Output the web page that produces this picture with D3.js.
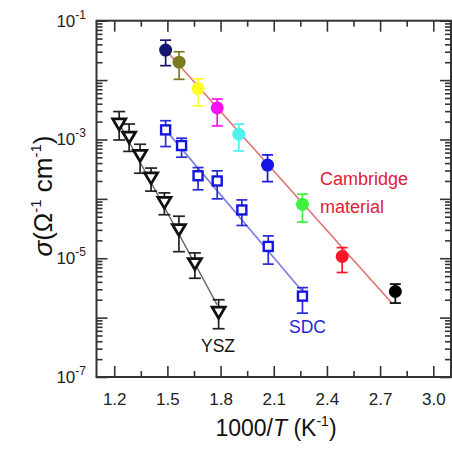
<!DOCTYPE html>
<html><head><meta charset="utf-8">
<script src="https://cdn.jsdelivr.net/npm/d3@7/dist/d3.min.js"></script>
<style>
html,body{margin:0;padding:0;background:#fff;}
svg{display:block;font-family:"Liberation Sans",Arial,sans-serif;}
</style></head>
<body>
<svg id="chart" width="452" height="453"></svg>
<script>
// ---- data ----
const camX    = [1.49, 1.566, 1.673, 1.781, 1.903, 2.065, 2.262, 2.486, 2.786];
const camY    = [3.2e-2, 2.0e-2, 7.2e-3, 3.4e-3, 1.23e-3, 3.7e-4, 8.1e-5, 1.07e-5, 2.75e-6];
const camHi   = [4.7e-2, 3.0e-2, 1.05e-2, 4.8e-3, 1.81e-3, 5.5e-4, 1.2e-4, 1.51e-5, 3.67e-6];
const camLo   = [1.75e-2, 1.03e-2, 3.67e-3, 1.69e-3, 6.4e-4, 1.95e-4, 4.06e-5, 5.75e-6, 1.76e-6];
const camColors = ["#14146e", "#7a7a1e", "#ffff28", "#ff10f0", "#50f0f0", "#1414e6", "#40f040", "#ff1428", "#000000"];
const camFitX = [1.49, 2.766];
const camFitY = [3.2e-2, 1.76e-6];

const sdcX  = [1.49, 1.58, 1.673, 1.781, 1.92, 2.069, 2.262];
const sdcY  = [1.45e-3, 7.9e-4, 2.45e-4, 2.0e-4, 6.5e-5, 1.58e-5, 2.3e-6];
const sdcHi = [2.07e-3, 1.05e-3, 3.36e-4, 2.96e-4, 9.6e-5, 2.38e-5, 3.2e-6];
const sdcLo = [7.6e-4, 5.03e-4, 1.42e-4, 1.0e-4, 3.56e-5, 7.96e-6, 1.19e-6];
const sdcFitX = [1.49, 2.254];
const sdcFitY = [1.45e-3, 2.95e-6];

const yszX  = [1.228, 1.284, 1.346, 1.408, 1.483, 1.565, 1.655, 1.789];
const yszY  = [1.86e-3, 1.12e-3, 5.5e-4, 2.3e-4, 8.9e-5, 3.1e-5, 8.3e-6, 1.26e-6];
const yszHi = [2.95e-3, 1.82e-3, 8.3e-4, 3.3e-4, 1.26e-4, 5.1e-5, 1.23e-5, 2.0e-6];
const yszLo = [9.8e-4, 6.3e-4, 2.7e-4, 1.35e-4, 5.4e-5, 1.29e-5, 4.6e-6, 6.5e-7];
const yszFitX = [1.228, 1.78];
const yszFitY = [1.86e-3, 1.66e-6];

const xTicks = [1.2, 1.5, 1.8, 2.1, 2.4, 2.7, 3.0];
const xMinor = [1.35, 1.65, 1.95, 2.25, 2.55, 2.85];
const yExp = [-1, -2, -3, -4, -5, -6, -7];
const yLabelExp = [-1, -3, -5, -7];

// ---- chart ----
const svg = d3.select("#chart");
const L = 96.5, R = 451, T = 20.7, B = 377;
const x = d3.scaleLinear().domain([1.1, 3.1]).range([L, R]);
const y = d3.scaleLog().domain([1e-7, 1e-1]).range([B, T]);
const axisColor = "#333";

const yMajor = yExp.map(e => Math.pow(10, e));
const yMinor = [];
yExp.slice(1).forEach(e => { for (let k = 2; k <= 9; k++) yMinor.push(k * Math.pow(10, e)); });

function styleAxis(g) {
  g.select(".domain").remove();
  g.selectAll("line").attr("stroke", axisColor).attr("stroke-width", 1.6);
}
// bottom
svg.append("g").attr("transform", `translate(0,${B})`)
  .call(d3.axisBottom(x).tickValues(xTicks).tickSize(-11).tickFormat(d3.format(".1f")).tickPadding(16))
  .call(styleAxis)
  .call(g => g.selectAll("text").attr("font-size", 17).attr("fill", "#222").attr("font-family", "Liberation Sans, Arial, sans-serif"));
svg.append("g").attr("transform", `translate(0,${B})`)
  .call(d3.axisBottom(x).tickValues(xMinor).tickSize(-6).tickFormat(""))
  .call(styleAxis);
// top
svg.append("g").attr("transform", `translate(0,${T})`)
  .call(d3.axisTop(x).tickValues(xTicks).tickSize(-11).tickFormat(""))
  .call(styleAxis);
svg.append("g").attr("transform", `translate(0,${T})`)
  .call(d3.axisTop(x).tickValues(xMinor).tickSize(-6).tickFormat(""))
  .call(styleAxis);
// left
svg.append("g").attr("transform", `translate(${L},0)`)
  .call(d3.axisLeft(y).tickValues(yMajor).tickSize(-11).tickFormat(""))
  .call(styleAxis);
svg.append("g").attr("transform", `translate(${L},0)`)
  .call(d3.axisLeft(y).tickValues(yMinor).tickSize(-6).tickFormat(""))
  .call(styleAxis);
// right
svg.append("g").attr("transform", `translate(${R},0)`)
  .call(d3.axisRight(y).tickValues(yMajor).tickSize(-11).tickFormat(""))
  .call(styleAxis);
svg.append("g").attr("transform", `translate(${R},0)`)
  .call(d3.axisRight(y).tickValues(yMinor).tickSize(-6).tickFormat(""))
  .call(styleAxis);
// frame
svg.append("rect").attr("x", L).attr("y", T).attr("width", R - L).attr("height", B - T)
  .attr("fill", "none").attr("stroke", axisColor).attr("stroke-width", 2);

// y labels
const yl = svg.append("g");
yLabelExp.forEach(e => {
  const t = yl.append("text").attr("y", y(Math.pow(10, e)) + 6)
    .attr("font-size", 17).attr("fill", "#222");
  t.append("tspan").text("10");
  t.append("tspan").attr("font-size", 12).attr("dy", -8).text(String(e));
});
yl.selectAll("text").each(function(){
  const w = this.getComputedTextLength();
  d3.select(this).attr("x", 86 - w);
});

// axis titles
const xt = svg.append("text").attr("x", 276).attr("y", 436).attr("text-anchor", "middle")
  .attr("font-size", 23).attr("fill", "#111");
xt.append("tspan").text("1000/");
xt.append("tspan").attr("font-style", "italic").text("T");
xt.append("tspan").text(" (K");
xt.append("tspan").attr("font-size", 14).attr("dy", -10).text("-1");
xt.append("tspan").attr("dy", 10).text(")");

const yt = svg.append("text").attr("transform", "translate(52,196) rotate(-90)")
  .attr("text-anchor", "middle").attr("font-size", 26).attr("fill", "#111");
yt.append("tspan").attr("font-style", "italic").text("σ");
yt.append("tspan").text("(Ω");
yt.append("tspan").attr("font-size", 15).attr("dy", -11).text("-1");
yt.append("tspan").attr("dy", 11).text(" cm");
yt.append("tspan").attr("font-size", 15).attr("dy", -11).text("-1");
yt.append("tspan").attr("dy", 11).text(")");

// fit lines
const line = d3.line().x(d => x(d[0])).y(d => y(d[1]));
svg.append("path").attr("d", line(d3.zip(camFitX, camFitY))).attr("stroke", "#e07272").attr("stroke-width", 1.6).attr("fill", "none");
svg.append("path").attr("d", line(d3.zip(sdcFitX, sdcFitY))).attr("stroke", "#7c7ce0").attr("stroke-width", 1.6).attr("fill", "none");
svg.append("path").attr("d", line(d3.zip(yszFitX, yszFitY))).attr("stroke", "#666").attr("stroke-width", 1.4).attr("fill", "none");

// error bars
function errBars(xs, lo, hi, colors, cap) {
  const g = svg.append("g");
  xs.forEach((xv, i) => {
    const c = Array.isArray(colors) ? colors[i] : colors;
    const px = x(xv);
    g.append("line").attr("x1", px).attr("x2", px).attr("y1", y(lo[i])).attr("y2", y(hi[i])).attr("stroke", c).attr("stroke-width", 1.7);
    [lo[i], hi[i]].forEach(v => g.append("line").attr("x1", px - cap).attr("x2", px + cap)
      .attr("y1", y(v)).attr("y2", y(v)).attr("stroke", c).attr("stroke-width", 1.7));
  });
}
errBars(yszX, yszLo, yszHi, "#222", 6);
errBars(sdcX, sdcLo, sdcHi, "#2a2ad8", 5.5);
errBars(camX, camLo, camHi, camColors, 5.5);

// markers
svg.append("g").selectAll("path").data(yszX).join("path")
  .attr("transform", (d, i) => `translate(${x(d)},${y(yszY[i])})`)
  .attr("d", "M-6.5,-4.5 L6.5,-4.5 L0,6.5 Z")
  .attr("fill", "#fff").attr("stroke", "#111").attr("stroke-width", 2.8).attr("stroke-linejoin", "miter");
svg.append("g").selectAll("rect").data(sdcX).join("rect")
  .attr("x", d => x(d) - 4.5).attr("y", (d, i) => y(sdcY[i]) - 4.5)
  .attr("width", 9).attr("height", 9)
  .attr("fill", "#fff").attr("stroke", "#1414e0").attr("stroke-width", 2.4);
svg.append("g").selectAll("circle").data(camX).join("circle")
  .attr("cx", d => x(d)).attr("cy", (d, i) => y(camY[i])).attr("r", 6.5)
  .attr("fill", (d, i) => camColors[i]);

// labels
svg.append("text").attr("x", 320).attr("y", 185).attr("font-size", 18).attr("fill", "#e0203a").text("Cambridge");
svg.append("text").attr("x", 320).attr("y", 213).attr("font-size", 18).attr("fill", "#e0203a").text("material");
svg.append("text").attr("x", 289).attr("y", 333).attr("font-size", 17.5).attr("fill", "#2424d4").text("SDC");
svg.append("text").attr("x", 201).attr("y", 352).attr("font-size", 17.5).attr("fill", "#111").text("YSZ");
</script>
</body></html>
